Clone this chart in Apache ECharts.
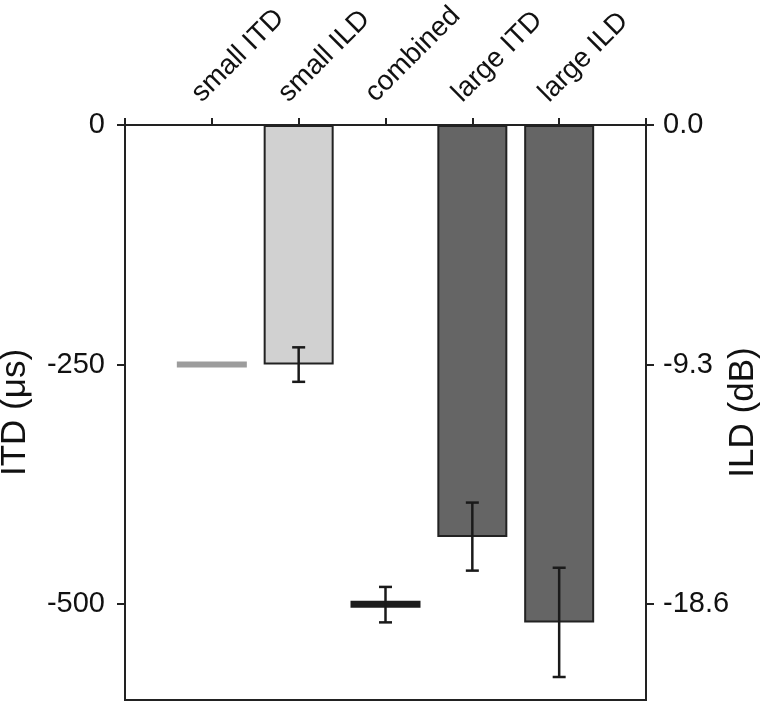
<!DOCTYPE html>
<html>
<head>
<meta charset="utf-8">
<script src="https://cdn.jsdelivr.net/npm/echarts@6/dist/echarts.min.js"></script>
<style>
html,body{margin:0;padding:0;background:#fff;}
#chart{width:767px;height:702px;}
</style>
</head>
<body>
<div id="chart"></div>
<script>
// ---- data ----
var categories = ['', 'small ITD', 'small ILD', 'combined', 'large ITD', 'large ILD', ''];
var barValues = [null, null, -250, null, -430, -519, null];
var lineValues = [null, -250, null, -500, null, null, null];
var errLow = [null, null, -268, -519, -465, -576, null];
var errHigh = [null, null, -232, -482, -394, -462, null];
var itdTicks = [0, -250, -500];
var ildTickLabels = ['0.0', '-9.3', '-18.6'];

var FONT = "'Liberation Sans', Arial, sans-serif";
var AX = '#222';

var chart = echarts.init(document.getElementById('chart'), null, {renderer: 'canvas'});

var lineColors = {1: '#9c9c9c', 3: '#1c1c1c'};

var option = {
  backgroundColor: '#fff',
  animation: false,
  grid: {left: 125, right: 121, top: 125, bottom: 2, show: true, borderColor: AX, borderWidth: 2,
    backgroundColor: 'transparent', containLabel: false, outerBoundsMode: 'none'},
  xAxis: {
    type: 'category',
    position: 'top',
    data: categories,
    boundaryGap: false,
    axisLine: {lineStyle: {color: AX, width: 2}},
    axisTick: {show: true, length: 7, lineStyle: {color: AX, width: 2}, alignWithLabel: true},
    axisLabel: {rotate: 45, margin: 12, fontSize: 28, color: '#111', fontFamily: FONT, interval: 0,
      verticalAlign: 'bottom', padding: [0, 0, 8, 0], hideOverlap: false},
    splitLine: {show: false}
  },
  yAxis: [
    {
      type: 'value', min: -600, max: 0,
      name: 'ITD (\u03bcs)', nameLocation: 'middle', nameGap: 92, nameRotate: 90, nameMoveOverlap: false,
      nameTextStyle: {fontSize: 35, color: '#111', fontFamily: FONT},
      axisLine: {show: true, lineStyle: {color: AX, width: 2}},
      axisTick: {show: true, length: 8, lineStyle: {color: AX, width: 2}, customValues: itdTicks},
      axisLabel: {fontSize: 29, color: '#111', fontFamily: FONT, margin: 20, customValues: itdTicks},
      splitLine: {show: false}
    },
    {
      type: 'value', min: -600, max: 0, position: 'right',
      name: 'ILD (dB)', nameLocation: 'middle', nameGap: 80, nameRotate: 90, nameMoveOverlap: false,
      nameTextStyle: {fontSize: 35, color: '#111', fontFamily: FONT},
      axisLine: {show: true, lineStyle: {color: AX, width: 2}},
      axisTick: {show: true, length: 8, lineStyle: {color: AX, width: 2}, customValues: itdTicks},
      axisLabel: {fontSize: 29, color: '#111', fontFamily: FONT, margin: 17, customValues: itdTicks,
        formatter: function (v) { var i = itdTicks.indexOf(v); return i >= 0 ? ildTickLabels[i] : ''; }},
      splitLine: {show: false}
    }
  ],
  series: [
    {
      type: 'bar',
      data: barValues,
      barWidth: 70,
      itemStyle: {
        color: function (p) { return p.dataIndex === 2 ? '#d1d1d1' : '#656565'; },
        borderColor: '#222', borderWidth: 2
      },
      z: 2
    },
    {
      type: 'custom',
      data: lineValues.map(function (v, i) { return [i, v]; }),
      renderItem: function (params, api) {
        var v = api.value(1);
        if (v === null || v === undefined || isNaN(v)) return null;
        var c = api.coord([api.value(0), v]);
        var idx = api.value(0);
        var h = idx === 3 ? 7 : 6;
        return {type: 'rect', shape: {x: c[0] - 35, y: c[1] - h / 2, width: 70, height: h},
          style: {fill: lineColors[idx]}};
      },
      z: 3
    },
    {
      type: 'custom',
      data: errLow.map(function (v, i) { return [i, v, errHigh[i]]; }),
      renderItem: function (params, api) {
        var lo = api.value(1), hi = api.value(2);
        if (lo === null || isNaN(lo)) return null;
        var a = api.coord([api.value(0), lo]);
        var b = api.coord([api.value(0), hi]);
        var w = 6.5;
        var st = {stroke: '#1a1a1a', lineWidth: 2.5};
        return {type: 'group', children: [
          {type: 'line', shape: {x1: a[0], y1: a[1], x2: b[0], y2: b[1]}, style: st},
          {type: 'line', shape: {x1: a[0] - w, y1: a[1], x2: a[0] + w, y2: a[1]}, style: st},
          {type: 'line', shape: {x1: b[0] - w, y1: b[1], x2: b[0] + w, y2: b[1]}, style: st}
        ]};
      },
      z: 4
    }
  ]
};
chart.setOption(option);
</script>
</body>
</html>
